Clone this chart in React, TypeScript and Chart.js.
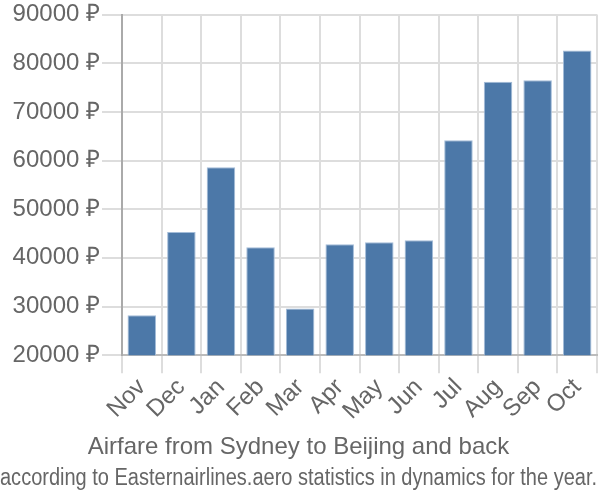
import React, { useEffect, useRef } from "react";
import { Chart, registerables } from "chart.js";

Chart.register(...registerables);

const months = ["Nov", "Dec", "Jan", "Feb", "Mar", "Apr", "May", "Jun", "Jul", "Aug", "Sep", "Oct"];
const prices = [28200, 45300, 58600, 42200, 29600, 42800, 43200, 43600, 64200, 76200, 76500, 82600];
const yMin = 20000;
const yMax = 90000;
const yStep = 10000;
const currency = "₽";
const titleText = "Airfare from Sydney to Beijing and back";
const subtitleText = "according to Easternairlines.aero statistics in dynamics for the year.";

const FONT = "'Liberation Sans', Arial, sans-serif";

export default function App() {
  const ref = useRef<HTMLCanvasElement | null>(null);
  useEffect(() => {
    document.body.style.margin = "0";
    const ctx = ref.current!;
    const chart = new Chart(ctx, {
      type: "bar",
      data: {
        labels: months,
        datasets: [
          {
            data: prices,
            backgroundColor: "#4c78a8",
            borderColor: "#a3bcd8",
            borderWidth: 1,
          },
        ],
      },
      options: {
        animation: false,
        responsive: false,
        layout: { padding: { top: 0, right: 3, left: 0, bottom: 0 } },
        plugins: {
          legend: { display: false },
          tooltip: { enabled: false },
          // at the bottom, the subtitle box sits closer to the chart, so the main title goes there
          subtitle: {
            display: true,
            position: "bottom",
            text: titleText,
            color: "#666",
            font: { family: FONT, size: 24, weight: "normal" },
            padding: { top: 7, bottom: 3 },
          },
          title: {
            display: true,
            position: "bottom",
            text: subtitleText,
            color: "#666",
            font: { family: FONT, size: 23, weight: "normal" },
            padding: { top: 0, bottom: 8 },
          },
        },
        scales: {
          x: {
            grid: { color: "#ddd", lineWidth: 2, tickLength: 18, offset: true },
            border: { color: "#bbb", width: 2 },
            ticks: {
              color: "#666",
              font: { family: FONT, size: 24 },
              maxRotation: 45,
              minRotation: 45,
              autoSkip: false,
              padding: 0,
            },
          },
          y: {
            min: yMin,
            max: yMax,
            afterFit: (scale: any) => {
              scale.width = 122;
            },
            grid: { color: "#ddd", lineWidth: 2, tickLength: 20 },
            border: { color: "#aaa", width: 2 },
            ticks: {
              stepSize: yStep,
              color: "#666",
              font: { family: FONT, size: 24, lineHeight: 1.05 },
              padding: 2,
              callback: (v: any) => `${v} ${currency}`,
            },
          },
        },
      },
    });
    return () => chart.destroy();
  }, []);
  return <canvas ref={ref} width={600} height={500} style={{ display: "block" }} />;
}
